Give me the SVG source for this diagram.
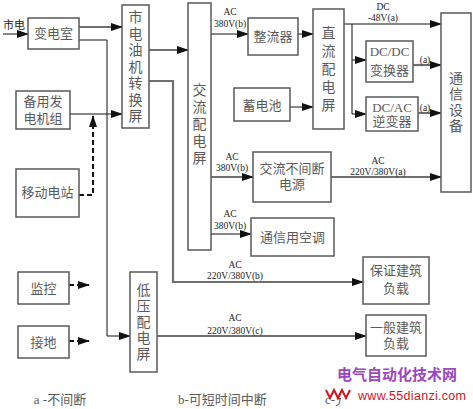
<svg xmlns="http://www.w3.org/2000/svg" width="473" height="409" viewBox="0 0 473 409">
<style>
.box{fill:#fff;stroke:#5a5a5a;stroke-width:1.5}
.t{font-family:"Liberation Serif","Noto Sans CJK SC",serif;font-size:13px;fill:#5a5a5a;text-anchor:middle}
.v{font-family:"Liberation Serif","Noto Sans CJK SC",serif;font-size:14px;fill:#5a5a5a;text-anchor:middle}
.lb{font-family:"Liberation Serif","Noto Sans CJK SC",serif;font-size:9.5px;fill:#222;text-anchor:middle}
.k{fill:none;stroke:#111;stroke-width:1}
.g{fill:none;stroke:#707070;stroke-width:2.2}
.d{fill:none;stroke:#111;stroke-width:2;stroke-dasharray:5,3}
</style>
<defs>
<marker id="ah" markerUnits="userSpaceOnUse" markerWidth="12" markerHeight="8" refX="11" refY="4" orient="auto"><path d="M0,0 L12,4 L0,8 Z" fill="#111"/></marker>
</defs>
<rect width="473" height="409" fill="#fff"/>
<g id="connectors">
<path class="k" d="M3,34 H28" marker-end="url(#ah)"/>
<path class="g" d="M79,27 H122" marker-end="url(#ah)"/>
<path class="k" d="M79,40 H107 V336 H130" marker-end="url(#ah)"/>
<path class="k" d="M70,114 H122" marker-end="url(#ah)"/>
<path class="d" d="M79,195 H93 V116" marker-end="url(#ah)"/>
<path class="d" d="M69,285 H89" marker-end="url(#ah)"/>
<path class="d" d="M69,341 H89" marker-end="url(#ah)"/>
<path class="g" d="M149,50 H188" marker-end="url(#ah)"/>
<path class="g" d="M149,81 H173 V282 H363" marker-end="url(#ah)"/>
<path class="k" d="M211,34 H248" marker-end="url(#ah)"/>
<path class="k" d="M298,34 H313" marker-end="url(#ah)"/>
<path class="k" d="M290,107 H313" marker-end="url(#ah)"/>
<path class="k" d="M344,24 H441" marker-end="url(#ah)"/>
<path class="k" d="M352,24 V114 H366" marker-end="url(#ah)"/>
<path class="k" d="M352,60 H366" marker-end="url(#ah)"/>
<path class="g" d="M413,65 H441" marker-end="url(#ah)"/>
<path class="g" d="M418,113 H441" marker-end="url(#ah)"/>
<path class="g" d="M211,177 H253" marker-end="url(#ah)"/>
<path class="g" d="M331,177 H441" marker-end="url(#ah)"/>
<path class="k" d="M211,234 H251" marker-end="url(#ah)"/>
<path class="g" d="M157,336 H366" marker-end="url(#ah)"/>
<text class="lb" x="230" y="15">AC</text><text class="lb" x="230" y="27">380V(b)</text>
<text class="lb" x="383" y="10">DC</text><text class="lb" x="383" y="21">-48V(a)</text>
<text class="lb" x="425" y="63">(a)</text><text class="lb" x="425" y="111">(a)</text>
<text class="lb" x="232" y="160">AC</text><text class="lb" x="232" y="171">380V(b)</text>
<text class="lb" x="230" y="217">AC</text><text class="lb" x="230" y="229">380V(b)</text>
<text class="lb" x="378" y="164">AC</text><text class="lb" x="378" y="175">220V/380V(a)</text>
<text class="lb" x="235" y="268">AC</text><text class="lb" x="235" y="279">220V/380V(b)</text>
<text class="lb" x="235" y="321">AC</text><text class="lb" x="235" y="334">220V/380V(c)</text>
</g>
<g id="shidian"><text class="t" x="14" y="29" style="font-size:11px;fill:#222">市电</text></g>
<g id="biandianshi"><rect class="box" x="28" y="18" width="51" height="31"/><text class="t" x="53.5" y="38">变电室</text></g>
<g id="beiyong"><rect class="box" x="16" y="91" width="54" height="38"/><text class="t" x="43" y="106">备用发</text><text class="t" x="43" y="123">电机组</text></g>
<g id="yidong"><rect class="box" x="16" y="169" width="63" height="48"/><text class="t" x="47.5" y="197">移动电站</text></g>
<g id="jiankong"><rect class="box" x="18" y="272" width="51" height="32"/><text class="t" x="43.5" y="293">监控</text></g>
<g id="jiedi"><rect class="box" x="18" y="326" width="51" height="32"/><text class="t" x="43.5" y="347">接地</text></g>
<g id="zhuanhuan"><rect class="box" x="122" y="5" width="27" height="123"/>
<text class="v" x="135.5" y="22"><tspan x="135.5">市</tspan><tspan x="135.5" dy="16.5">电</tspan><tspan x="135.5" dy="16.5">油</tspan><tspan x="135.5" dy="16.5">机</tspan><tspan x="135.5" dy="16.5">转</tspan><tspan x="135.5" dy="16.5">换</tspan><tspan x="135.5" dy="16.5">屏</tspan></text></g>
<g id="jiaoliu"><rect class="box" x="188" y="3" width="23" height="247"/>
<text class="v" x="199.5" y="95"><tspan x="199.5">交</tspan><tspan x="199.5" dy="17">流</tspan><tspan x="199.5" dy="17">配</tspan><tspan x="199.5" dy="17">电</tspan><tspan x="199.5" dy="17">屏</tspan></text></g>
<g id="diya"><rect class="box" x="130" y="272" width="27" height="100"/>
<text class="v" x="143.5" y="295"><tspan x="143.5">低</tspan><tspan x="143.5" dy="16">压</tspan><tspan x="143.5" dy="16">配</tspan><tspan x="143.5" dy="16">电</tspan><tspan x="143.5" dy="16">屏</tspan></text></g>
<g id="zhengliu"><rect class="box" x="248" y="18" width="50" height="37"/><text class="t" x="273" y="41">整流器</text></g>
<g id="xudianchi"><rect class="box" x="234" y="88" width="56" height="33"/><text class="t" x="262" y="110">蓄电池</text></g>
<g id="zhiliu"><rect class="box" x="313" y="9" width="31" height="120"/>
<text class="v" x="328.5" y="38"><tspan x="328.5">直</tspan><tspan x="328.5" dy="18">流</tspan><tspan x="328.5" dy="18">配</tspan><tspan x="328.5" dy="18">电</tspan><tspan x="328.5" dy="18">屏</tspan></text></g>
<g id="dcdc"><rect class="box" x="366" y="41" width="47" height="41"/><text class="t" x="389.5" y="56">DC/DC</text><text class="t" x="389.5" y="75">变换器</text></g>
<g id="dcac"><rect class="box" x="366" y="97" width="52" height="34"/><text class="t" x="392" y="112">DC/AC</text><text class="t" x="392" y="126">逆变器</text></g>
<g id="tongxin"><rect class="box" x="441" y="13" width="30" height="179"/>
<text class="v" x="456" y="83"><tspan x="456">通</tspan><tspan x="456" dy="16">信</tspan><tspan x="456" dy="16">设</tspan><tspan x="456" dy="16">备</tspan></text></g>
<g id="ups"><rect class="box" x="253" y="152" width="78" height="50"/><text class="t" x="292" y="173">交流不间断</text><text class="t" x="292" y="189">电源</text></g>
<g id="kongtiao"><rect class="box" x="251" y="218" width="83" height="38"/><text class="t" x="292.5" y="242">通信用空调</text></g>
<g id="baozheng"><rect class="box" x="363" y="257" width="66" height="47"/><text class="t" x="396" y="275">保证建筑</text><text class="t" x="396" y="293">负载</text></g>
<g id="yiban"><rect class="box" x="366" y="315" width="60" height="41"/><text class="t" x="396" y="332">一般建筑</text><text class="t" x="396" y="348">负载</text></g>
<g id="legend">
<text class="t" x="60" y="404">a -不间断</text>
<text class="t" x="178" y="404" style="text-anchor:start">b-可短时间中断</text>
<text class="t" x="325" y="404" style="text-anchor:start">c-允</text>
</g>
<g id="watermark">
<rect x="341" y="386" width="130" height="20" fill="#fff"/>
<polyline points="326,390 330,398 334,390 338,398 342,390 346,398 350,390" fill="none" stroke="#d2141e" stroke-width="2"/>
<text x="337" y="380" style="font-family:'Noto Sans CJK SC',sans-serif;font-size:15px;font-weight:bold;fill:#9a47c0">电气自动化技术网</text>
<text x="358" y="400" textLength="108" style="font-family:'Liberation Sans',sans-serif;font-size:12.5px;fill:#d2141e">www.55dianzi.com</text>
</g>
</svg>
